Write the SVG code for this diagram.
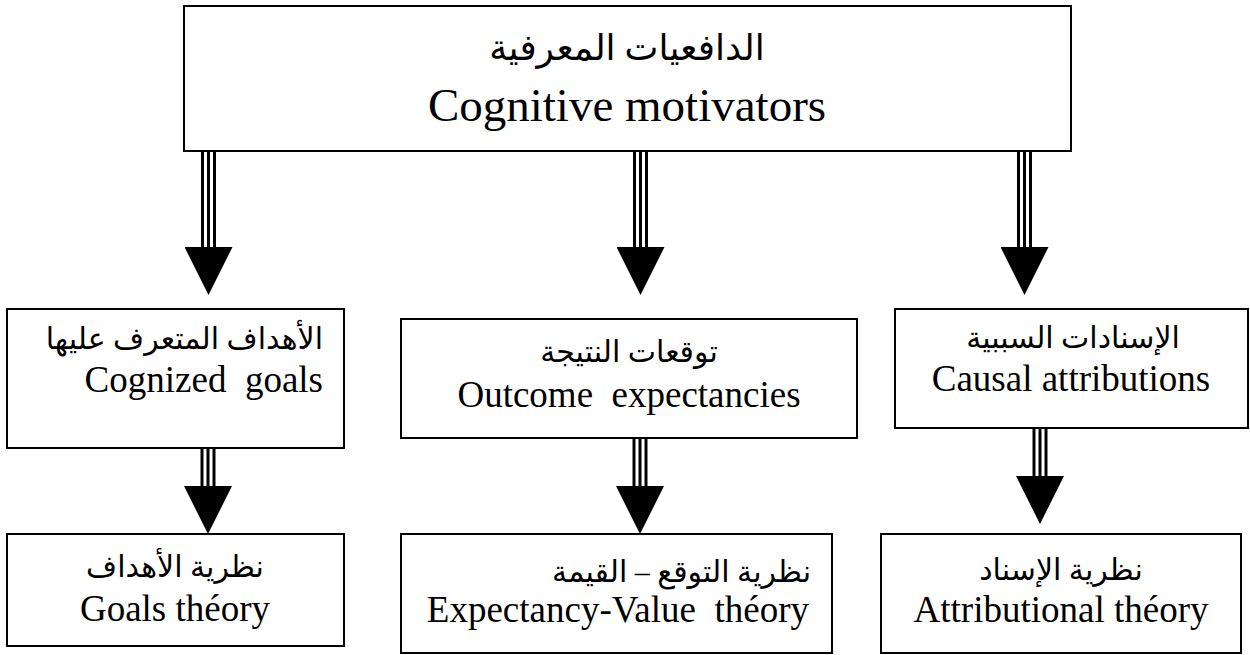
<svg xmlns="http://www.w3.org/2000/svg" width="1250" height="655" viewBox="0 0 1250 655">
<style>
.box{fill:#fff;stroke:#000;stroke-width:2}
.t{font-family:"Liberation Serif","DejaVu Sans",serif;fill:#000}
.en{font-size:37px}
.ar{font-size:30px}
.big{font-size:47px}
.bigar{font-size:36px}
.stem{stroke:#000;stroke-width:3}
</style>
<defs>
<marker id="head" markerUnits="userSpaceOnUse" markerWidth="48" markerHeight="48" refX="0" refY="23.5" orient="auto" viewBox="0 0 47 47">
<path d="M0,0 L47,23.5 L0,47 Z" fill="#000"/>
</marker>
</defs>
<rect width="1250" height="655" fill="#fff"/>
<g id="connectors">
<g><line class="stem" x1="202.5" y1="151" x2="202.5" y2="248"/><line class="stem" x1="214.5" y1="151" x2="214.5" y2="248"/><line class="stem" x1="208.5" y1="151" x2="208.5" y2="247" marker-end="url(#head)"/></g>
<g><line class="stem" x1="634.5" y1="151" x2="634.5" y2="248"/><line class="stem" x1="646.5" y1="151" x2="646.5" y2="248"/><line class="stem" x1="640.5" y1="151" x2="640.5" y2="247" marker-end="url(#head)"/></g>
<g><line class="stem" x1="1018.5" y1="151" x2="1018.5" y2="248"/><line class="stem" x1="1030.5" y1="151" x2="1030.5" y2="248"/><line class="stem" x1="1024.5" y1="151" x2="1024.5" y2="247" marker-end="url(#head)"/></g>
<g><line class="stem" x1="202" y1="448" x2="202" y2="487"/><line class="stem" x1="214" y1="448" x2="214" y2="487"/><line class="stem" x1="208" y1="448" x2="208" y2="486" marker-end="url(#head)"/></g>
<g><line class="stem" x1="634" y1="438" x2="634" y2="487"/><line class="stem" x1="646" y1="438" x2="646" y2="487"/><line class="stem" x1="640" y1="438" x2="640" y2="486" marker-end="url(#head)"/></g>
<g><line class="stem" x1="1034" y1="428" x2="1034" y2="477"/><line class="stem" x1="1046" y1="428" x2="1046" y2="477"/><line class="stem" x1="1040" y1="428" x2="1040" y2="476" marker-end="url(#head)"/></g>
</g>
<g id="top">
<rect class="box" x="184" y="6" width="887" height="145"/>
<text class="t bigar" x="627" y="60" text-anchor="middle" direction="rtl">الدافعيات المعرفية</text>
<text class="t big" x="627" y="121" text-anchor="middle">Cognitive motivators</text>
</g>
<g id="goals">
<rect class="box" x="7" y="309" width="337" height="139"/>
<text class="t ar" x="323" y="349" text-anchor="start" direction="rtl">الأهداف المتعرف عليها</text>
<text class="t en" x="323" y="392" text-anchor="end" xml:space="preserve">Cognized  goals</text>
</g>
<g id="outcome">
<rect class="box" x="401" y="319" width="456" height="119"/>
<text class="t ar" x="629" y="362" text-anchor="middle" direction="rtl">توقعات النتيجة</text>
<text class="t en" x="629" y="407" text-anchor="middle" xml:space="preserve">Outcome  expectancies</text>
</g>
<g id="causal">
<rect class="box" x="895" y="309" width="353" height="119"/>
<text class="t ar" x="1073" y="348" text-anchor="middle" direction="rtl">الإسنادات السببية</text>
<text class="t en" x="1071" y="391" text-anchor="middle">Causal attributions</text>
</g>
<g id="goalsTheory">
<rect class="box" x="7" y="534" width="337" height="112"/>
<text class="t ar" x="175" y="577" text-anchor="middle" direction="rtl">نظرية الأهداف</text>
<text class="t en" x="175" y="621" text-anchor="middle">Goals théory</text>
</g>
<g id="expectancyValue">
<rect class="box" x="401" y="534" width="431" height="119"/>
<text class="t ar" x="811" y="582" text-anchor="start" direction="rtl">نظرية التوقع – القيمة</text>
<text class="t en" x="809" y="622" text-anchor="end" xml:space="preserve">Expectancy-Value  théory</text>
</g>
<g id="attributional">
<rect class="box" x="881" y="534" width="360" height="119"/>
<text class="t ar" x="1061" y="580" text-anchor="middle" direction="rtl">نظرية الإسناد</text>
<text class="t en" x="1061" y="622" text-anchor="middle">Attributional théory</text>
</g>
</svg>
